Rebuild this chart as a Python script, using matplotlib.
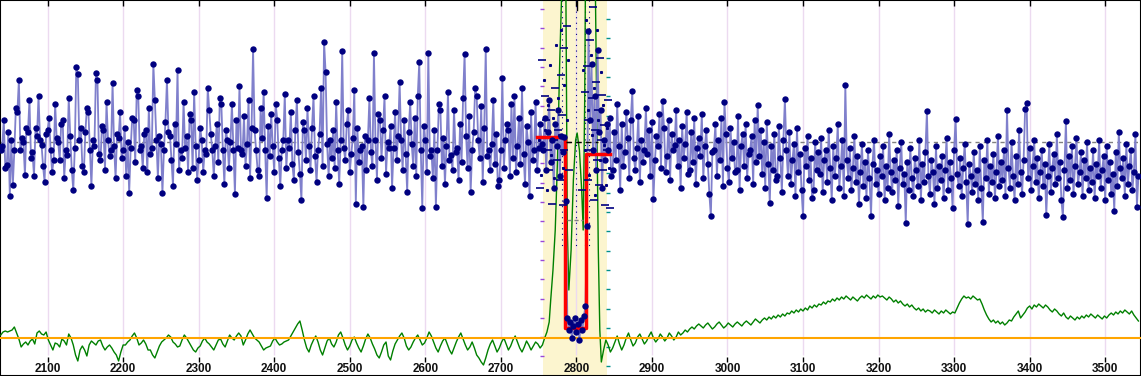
import matplotlib.pyplot as plt
import numpy as np

ticks = list(range(2100, 3501, 100))

# blue trace, one point every 2 units
blue_a = [150, 146, 120, 168, 165, 132, 196, 140, 185, 150, 108, 112, 80, 150, 138, 142, 175, 128, 132, 100,
          158, 152, 176, 128, 136, 96, 140, 145, 166, 182, 134, 130, 118, 150, 172, 160, 104, 138, 142, 160,
          124, 120, 178, 150, 155, 98, 136, 170, 190, 148, 67, 74, 140, 128, 166, 172, 132, 108, 112, 150,
          186, 140, 146, 73, 80, 154, 160, 126, 130, 170, 102, 140, 156, 150, 83, 146, 178, 134, 138, 112,
          158, 150, 128, 176, 142, 193, 148, 118, 120, 162, 90, 96, 150, 146, 168, 134, 130, 172, 108, 154,
          148, 64, 100, 140, 178, 136, 144, 193, 150, 122, 80, 132, 136, 160, 186, 124, 144, 70, 170, 150,
          158, 102, 148, 136, 172, 114, 120, 168, 92, 146, 180, 160, 128, 140, 172, 150, 154, 88, 110, 134,
          150, 176, 146, 124, 162, 98, 104, 150, 184, 130, 140, 168, 142, 104, 150, 194, 120, 148, 86, 150,
          154, 116, 166, 144, 100, 178, 128, 49, 130, 150, 170, 176, 108, 138, 92, 150, 198, 126, 156, 114,
          146, 172, 104, 120, 158, 186, 150, 140, 94, 168, 140, 148, 112, 164, 180, 130, 100, 152, 174, 200,
          122, 130, 160, 108, 146, 170, 128, 96, 156, 182, 150, 134, 88, 166, 42, 72, 144, 176, 140, 158,
          130, 168, 102, 150, 184, 140, 51, 148, 160, 124, 110, 172, 154, 138, 90, 204, 128, 162, 150, 146,
          207, 136, 170, 140, 98, 152, 166, 53, 140, 180, 114, 120, 158, 130, 96, 174, 142, 148, 126, 188,
          148, 112, 160, 136, 82, 140, 170, 120, 154, 192, 132, 102, 144, 166, 118, 176, 96, 62, 150, 208,
          126, 140, 172, 53, 156, 150, 178, 130, 207, 150, 104, 110, 166, 138, 184, 146, 92, 160, 155, 170,
          110, 152, 148, 180, 124, 162, 98, 54, 136, 168, 116, 192, 150, 132, 88, 96, 140, 158, 106, 182,
          128, 49, 156, 150, 170, 144, 100, 164, 134, 186, 180, 150, 78, 168, 140, 124, 130, 176, 104, 158,
          96, 172, 146, 118, 164, 88, 154, 184, 126, 142, 196, 112, 160, 150, 102, 170, 148, 124, 144]
blue_b = [150, 118, 170, 132, 100, 162, 140, 188, 124, 146, 110, 176, 136, 152, 137,
          201, 318, 330, 322, 338, 326, 318, 332, 324, 340, 320, 330, 316, 306,
          226, 31, 120, 64, 150, 96, 170, 50, 132, 110, 188, 140, 160, 124]
blue_c = [150, 118, 176, 170, 132, 160, 104, 146, 190, 124, 166, 152, 112, 138, 178, 120, 91, 158, 170, 148,
          116, 182, 140, 162, 150, 108, 154, 130, 176, 122, 199, 160, 136, 146, 114, 168, 101, 128, 172, 156,
          120, 180, 134, 150, 145, 110, 166, 140, 188, 126, 158, 144, 112, 174, 170, 132, 162, 118, 184, 148,
          138, 156, 114, 178, 146, 130, 164, 194, 216, 152, 150, 124, 176, 140, 160, 118, 186, 102, 134, 168,
          182, 128, 158, 142, 172, 170, 116, 190, 146, 134, 166, 124, 178, 154, 150, 136, 184, 120, 162, 105,
          156, 130, 174, 142, 188, 122, 164, 203, 146, 170, 134, 180, 176, 126, 158, 192, 140, 99, 150, 176,
          132, 184, 160, 144, 196, 128, 172, 154, 190, 216, 148, 166, 136, 180, 158, 198, 190, 142, 170, 152,
          174, 138, 192, 160, 150, 182, 130, 168, 200, 146, 176, 158, 124, 188, 166, 140, 196, 85, 160, 178,
          148, 190, 168, 136, 182, 156, 204, 172, 144, 186, 162, 198, 150, 178, 216, 164, 140, 184, 170, 194,
          156, 176, 146, 200, 166, 188, 134, 172, 192, 160, 180, 150, 206, 168, 142, 184, 174, 223, 162, 190,
          148, 178, 196, 158, 170, 186, 140, 200, 164, 182, 152, 111, 176, 194, 160, 172, 204, 146, 188, 166,
          180, 156, 198, 170, 138, 190, 162, 178, 208, 150, 119, 174, 186, 158, 196, 168, 144, 182, 224, 164,
          176, 192, 152, 184, 170, 200, 146, 188, 222, 160, 178, 140, 194, 166, 182, 154, 198, 172, 136, 186,
          162, 180, 150, 196, 110, 168, 188, 142, 176, 200, 156, 184, 130, 172, 194, 160, 109, 103, 178, 148,
          190, 166, 140, 182, 158, 198, 172, 150, 186, 164, 215, 176, 144, 192, 168, 154, 184, 134, 178, 162,
          200, 217, 170, 121, 188, 156, 180, 146, 194, 166, 138, 184, 172, 152, 196, 160, 178, 142, 190, 168,
          182, 150, 198, 164, 176, 140, 188, 170, 156, 200, 146, 180, 162, 194, 174, 211, 152, 186, 132, 168,
          178, 158, 196, 144, 184, 166, 150, 190, 172, 134, 207, 176]

# green trace, one point every 3 units, plus the two peaks in the marked window
green_a = [335, 332, 331, 332, 331, 330, 327, 333, 339, 347, 344, 342, 345, 341, 339, 344, 333, 331, 334, 335,
           332, 340, 345, 350, 343, 344, 347, 339, 341, 345, 334, 338, 345, 355, 361, 350, 346, 350, 356, 345,
           341, 343, 345, 341, 340, 346, 350, 347, 345, 348, 352, 355, 361, 352, 345, 345, 342, 340, 336, 333,
           338, 345, 343, 340, 344, 350, 350, 355, 358, 352, 346, 342, 340, 338, 335, 337, 342, 344, 347, 346,
           340, 335, 338, 342, 346, 350, 352, 348, 346, 341, 338, 342, 344, 347, 350, 345, 340, 339, 344, 347,
           341, 335, 338, 340, 336, 333, 336, 345, 340, 334, 330, 334, 338, 340, 342, 346, 350, 348, 347, 346,
           341, 338, 342, 345, 344, 342, 341, 340, 336, 332, 328, 324, 321, 330, 340,
           348, 352, 345, 340, 336, 342, 350, 355, 348, 341, 338, 344, 347, 342, 335, 332, 338, 345, 350, 346,
           340, 337, 343, 348, 352, 346, 339, 334, 338, 344, 349, 355, 358, 352, 345, 342, 356, 360, 351, 344,
           340, 336, 333, 338, 346, 350, 347, 342, 338, 335, 340, 345, 343, 338, 332, 336, 342, 348, 352, 346,
           341, 338, 344, 350, 354, 348, 342, 337, 333, 339, 345, 350, 347, 342, 348, 355, 358, 362, 365, 358,
           350, 344, 340, 346, 352, 348, 342, 338, 344, 350, 346, 340, 336, 342, 348, 352, 347, 341, 345, 350,
           346, 342, 344, 348]
green_dip_x = [2755, 2758, 2761, 2764, 2766, 2769, 2772, 2775, 2778, 2781, 2786, 2788, 2790, 2793, 2796,
               2799, 2801, 2804, 2807, 2809, 2811, 2812, 2825, 2827, 2829, 2831, 2833, 2836, 2839, 2842, 2845]
green_dip_y = [345, 338, 332, 322, 300, 270, 230, 160, 60, -20, -20, 230, 290, 250, 180,
               140, 133, 150, 190, 230, 100, -20, -20, 120, 250, 330, 362, 350, 340, 345, 352]
green_c = [348, 342, 336, 344, 350, 345, 338, 333, 340, 346, 343, 337, 334, 339, 344, 341, 336, 332, 338, 342,
           339, 334, 337, 341, 338, 333, 336, 340, 337, 332, 335, 333, 330, 332, 329, 327, 329, 326, 324, 326,
           328, 325, 323, 326, 329, 327, 324, 322, 325, 328, 326, 323, 325, 327, 324, 322, 324, 326, 323, 321,
           323, 325, 322, 319, 321, 323, 320, 318, 320, 317, 319, 316, 318, 315, 317, 314, 316, 313, 314, 311,
           313, 310, 312, 309, 311, 308, 310, 306, 308, 305, 307, 304, 305, 302, 304, 301, 302, 299, 301, 298,
           300, 297, 299, 296, 298, 300, 297, 299, 301, 298, 296, 298, 295, 297, 299, 296, 298, 295, 297, 296,
           298, 300, 297, 299, 302, 300, 303, 301, 304, 306, 304, 307, 305, 308, 310, 308, 311, 309, 312, 310,
           311, 313, 310, 312, 314, 311, 313, 310, 312, 314, 312, 313, 308, 303, 299, 296, 298, 297, 299, 296,
           298, 300, 299, 304, 310, 315, 319, 322, 320, 323, 321, 324, 322, 325, 323, 320, 321, 317, 314, 311,
           318, 315, 312, 308, 306, 309, 305, 307, 304, 306, 308, 305, 307, 310, 312, 309, 311, 314, 316, 313,
           317, 319, 316, 318, 320, 317, 319, 316, 318, 315, 317, 314, 316, 318, 315, 317, 319, 316, 318, 315,
           313, 315, 312, 314, 311, 313, 310, 312, 314, 311, 315, 318, 321]

# fitted step inside the window
red_x = [2748, 2785, 2785, 2813, 2813, 2845]
red_y = [137, 137, 328, 328, 154, 154]

# scattered samples in the window
dash_x = [2752, 2755, 2758, 2760, 2762, 2764, 2766, 2768, 2770, 2772, 2774, 2776, 2778, 2779, 2781,
          2782, 2783, 2784, 2788, 2790, 2808, 2812, 2814, 2815, 2816, 2818, 2819, 2820, 2822, 2823,
          2824, 2826, 2827, 2828, 2830, 2831, 2832, 2834, 2835, 2836, 2838, 2840, 2842, 2844]
dash_y = [188, 60, 96, 120, 150, 170, 110, 204, 140, 88, 160, 130, 180, 75, 115,
          205, 48, 150, 26, 170, 190, 92, 66, 180, 120, 40, 150, 98, 7, 200,
          130, 82, 160, 110, 185, 58, 140, 95, 170, 125, 205, 150, 100, 208]
dot_x = [2750, 2753, 2757, 2759, 2761, 2763, 2765, 2767, 2769, 2771, 2773, 2775, 2777, 2780, 2782,
         2784, 2787, 2789, 2809, 2811, 2813, 2815, 2817, 2819, 2821, 2823, 2825, 2827, 2829, 2831,
         2833, 2835, 2837, 2839, 2841, 2843]
dot_y = [140, 175, 80, 130, 190, 105, 65, 155, 118, 178, 45, 98, 135, 30, 168,
         85, 120, 60, 70, 150, 20, 110, 175, 55, 135, 88, 195, 30, 120, 160,
         72, 105, 145, 185, 128, 168]

blue_x = np.concatenate([np.arange(2038, 2755, 2), np.arange(2756, 2841, 2), np.arange(2842, 3545, 2)])
blue_y = np.array(blue_a + blue_b + blue_c)
green_x = np.concatenate([np.arange(2038, 2753, 3), green_dip_x, np.arange(2848, 3545, 3)])
green_y = np.array(green_a + green_dip_y + green_c)

fig = plt.figure(figsize=(11.41, 3.76), dpi=100)
ax = fig.add_axes([0, 0, 1, 1])
ax.set_xlim(2037, 3547.4)
ax.set_ylim(376, 0)

ax.axvspan(2756, 2841, color='#fcf5cf', lw=0, zorder=0)
ax.vlines(ticks, 0, 355, color='#ecdaf0', lw=1, zorder=1)
ax.axhline(142, color='#808080', lw=1, ls=(0, (3, 3)), zorder=2)

# ruler marks on both edges of the window
rule = np.arange(9, 365, 19.3)
ax.plot([2755] * len(rule), rule, ls='none', marker='_', ms=3, mew=1, color='#9a48d8', zorder=2)
ax.plot([2842] * len(rule), rule + 10, ls='none', marker='_', ms=3, mew=1, color='#00908a', zorder=2)
for xv in [2781, 2799, 2811, 2817]:
    ax.plot([xv, xv], [0, 250], color='#000080', lw=0.8, ls=(0, (1, 4)), zorder=2)

ax.plot(green_x, green_y, color='#008000', lw=1, zorder=3)
ax.axhline(338, color='#ffa500', lw=1.5, zorder=4)

ax.plot(blue_x, blue_y, color='#8080cc', lw=1.3, zorder=5)
ax.plot(red_x, red_y, color='#ff0000', lw=2.5, zorder=5.5)
ax.plot([2786, 2828], [142, 142], color='black', lw=1, ls=(0, (4, 3)), zorder=5.6)
ax.plot([2788, 2809], [220, 220], color='#808080', lw=1, ls=(0, (3, 2)), zorder=5.6)
ax.plot([2800.5, 2800.5], [0, 10], color='black', lw=1, zorder=5.6)
ax.plot(blue_x, blue_y, ls='none', marker='o', ms=4.6, mew=0, color='#000080', zorder=6)
ax.plot(dash_x, dash_y, ls='none', marker='_', ms=6, mew=1.2, color='#000080', zorder=6)
ax.plot(dot_x, dot_y, ls='none', marker='s', ms=1.2, color='#000080', zorder=6)

for s in ax.spines.values():
    s.set_color('black')
    s.set_linewidth(1.5)
ax.set_xticks(ticks)
ax.set_yticks([])
ax.tick_params(axis='x', direction='in', length=4, width=1, top=True, bottom=False, labelbottom=False)
ax.vlines(ticks, 357, 362, color='black', lw=1, zorder=7)
for t in ticks:
    ax.text(t, 369, str(t), ha='center', va='center', fontsize=8.5, fontweight='bold',
            family='Liberation Sans', color='#111111', zorder=7)

fig.savefig('out.png', dpi=100)
